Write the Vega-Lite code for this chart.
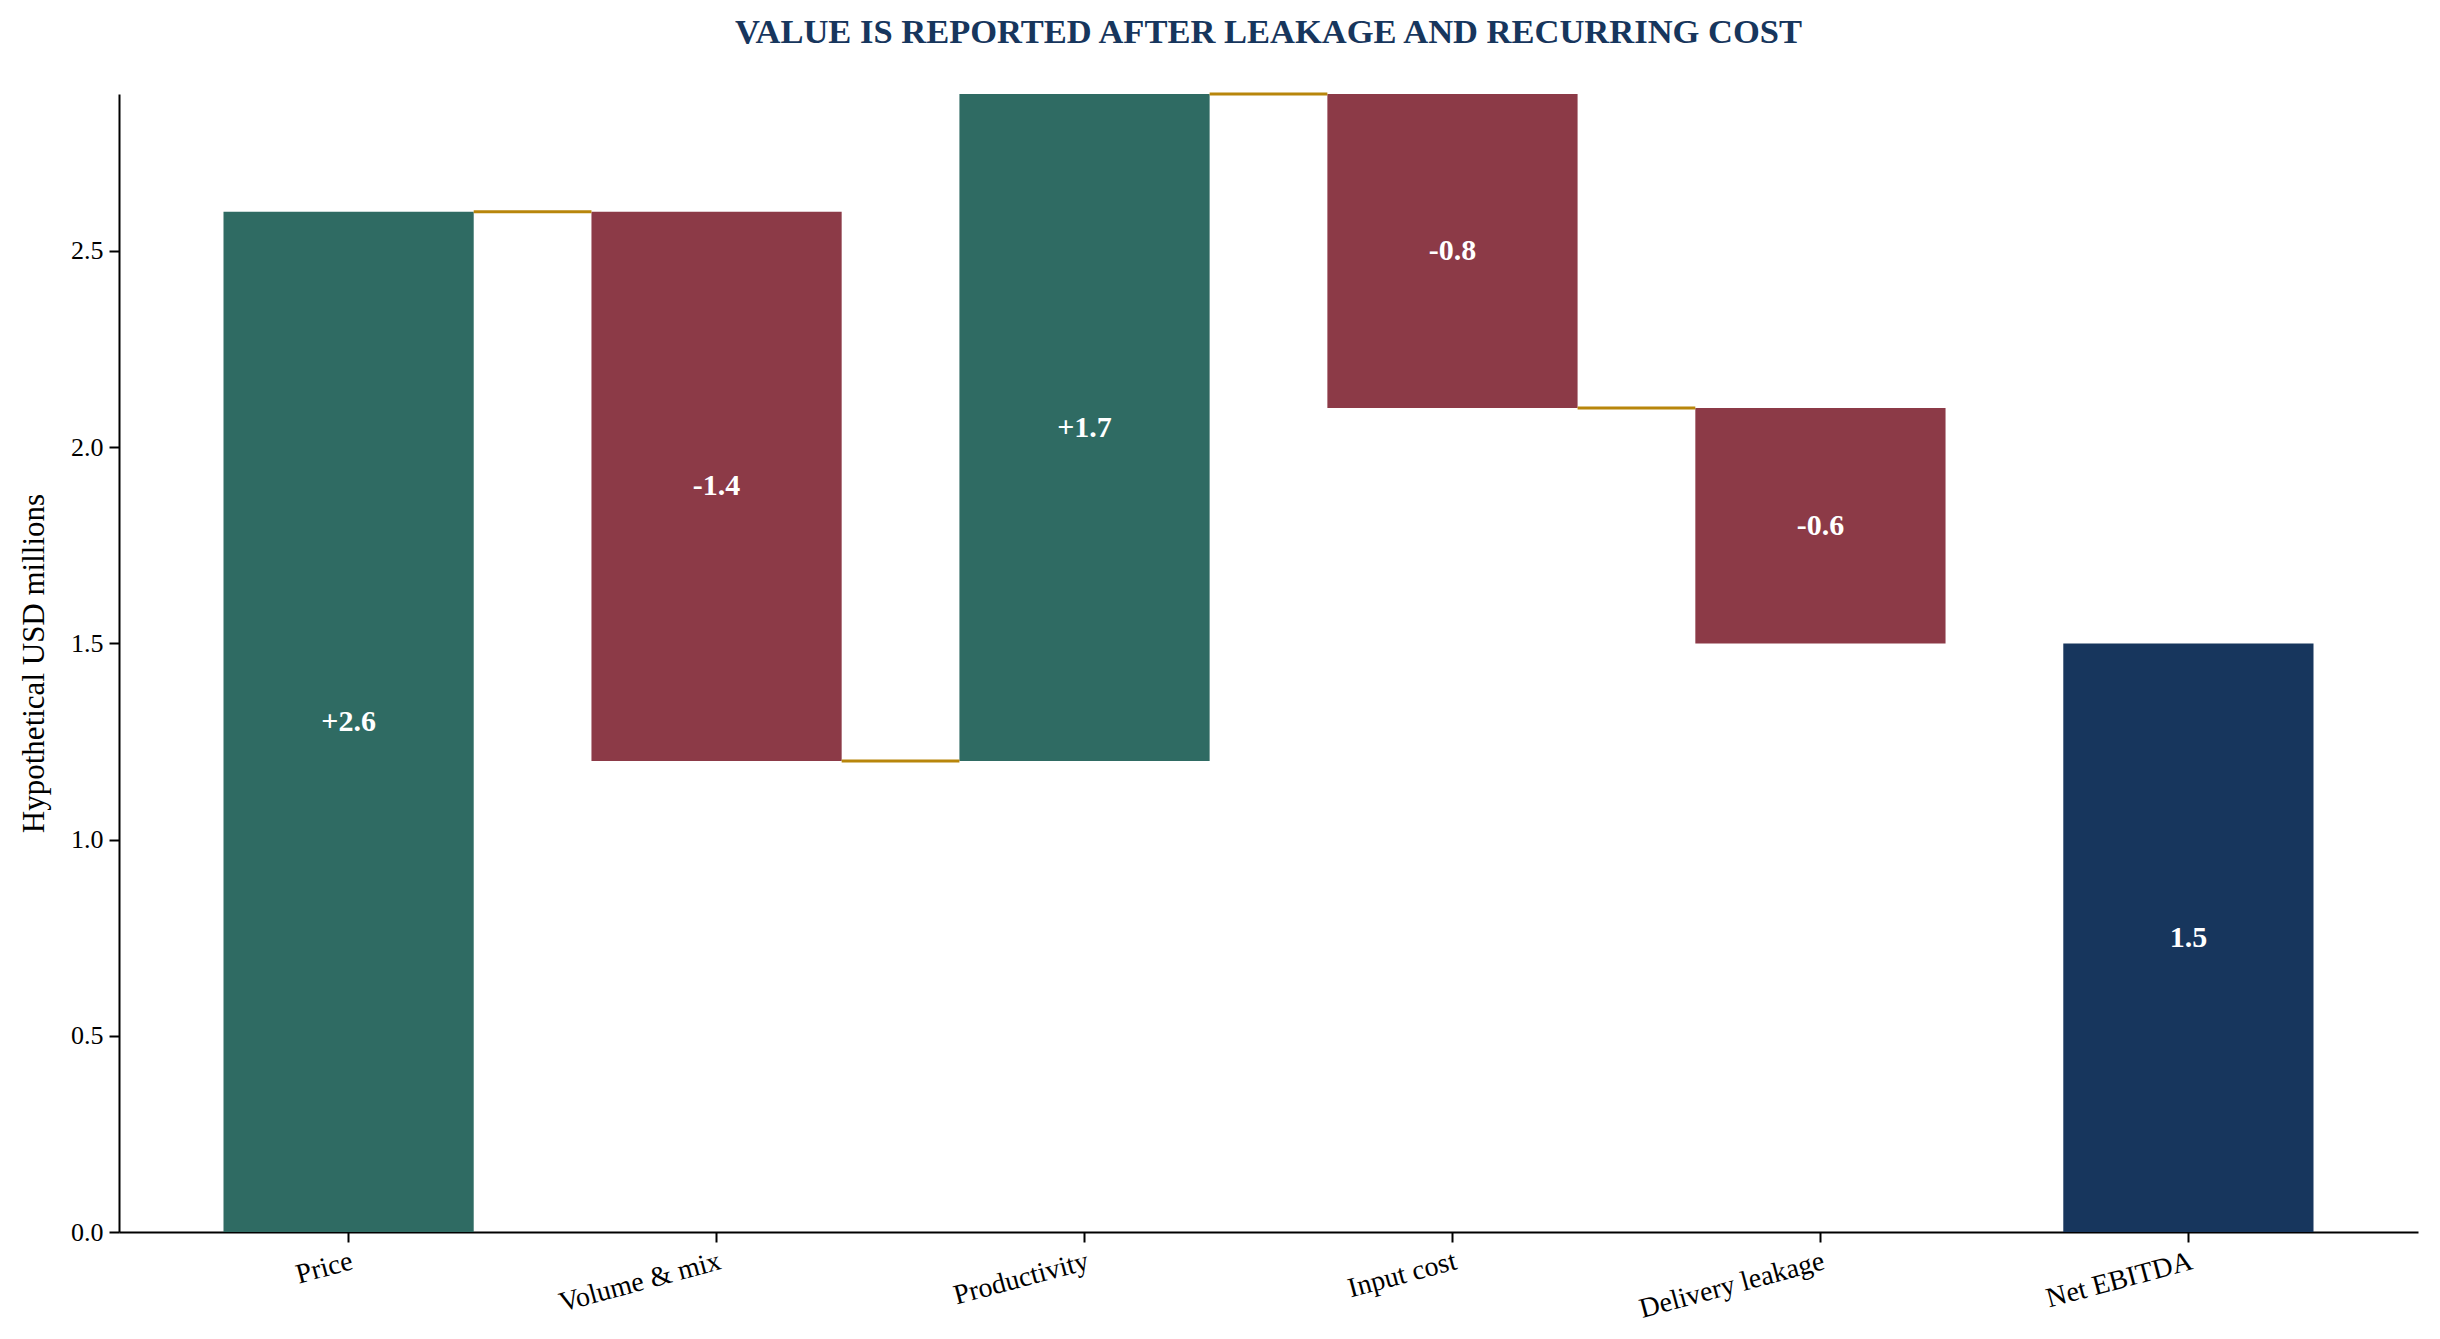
{
  "$schema": "https://vega.github.io/schema/vega-lite/v6.json",
  "description": "Waterfall: value is reported after leakage and recurring cost",
  "autosize": "none",
  "padding": {"left": 119, "top": 94, "right": 22, "bottom": 107},
  "width": 2299,
  "height": 1138,
  "background": "white",
  "title": {
    "text": "VALUE IS REPORTED AFTER LEAKAGE AND RECURRING COST",
    "font": "Liberation Serif",
    "fontSize": 34.5,
    "fontWeight": "bold",
    "color": "#17365D",
    "anchor": "middle",
    "frame": "group",
    "offset": 42
  },
  "datasets": {
    "steps": [
      {"step": "Price", "start": 0, "end": 2.6, "label": "+2.6", "kind": "up"},
      {"step": "Volume & mix", "start": 2.6, "end": 1.2, "label": "-1.4", "kind": "down"},
      {"step": "Productivity", "start": 1.2, "end": 2.9, "label": "+1.7", "kind": "up"},
      {"step": "Input cost", "start": 2.9, "end": 2.1, "label": "-0.8", "kind": "down"},
      {"step": "Delivery leakage", "start": 2.1, "end": 1.5, "label": "-0.6", "kind": "down"},
      {"step": "Net EBITDA", "start": 0, "end": 1.5, "label": "1.5", "kind": "total"}
    ],
    "links": [
      {"from": "Price", "to": "Volume & mix", "level": 2.6},
      {"from": "Volume & mix", "to": "Productivity", "level": 1.2},
      {"from": "Productivity", "to": "Input cost", "level": 2.9},
      {"from": "Input cost", "to": "Delivery leakage", "level": 2.1}
    ]
  },
  "layer": [
    {
      "data": {"name": "steps"},
      "mark": {"type": "bar"},
      "encoding": {
        "x": {
          "field": "step",
          "type": "nominal",
          "sort": null,
          "scale": {"paddingInner": 0.32, "paddingOuter": 0.284},
          "axis": {"title": null, "labelLimit": 0, "labelOverlap": false}
        },
        "y": {
          "field": "end",
          "type": "quantitative",
          "scale": {"domain": [0, 2.9], "nice": false, "zero": true},
          "axis": {
            "title": "Hypothetical USD millions",
            "values": [0, 0.5, 1, 1.5, 2, 2.5],
            "format": ".1f"
          }
        },
        "y2": {"field": "start"},
        "color": {
          "field": "kind",
          "type": "nominal",
          "scale": {"domain": ["up", "down", "total"], "range": ["#2F6B63", "#8C3A47", "#17365D"]},
          "legend": null
        }
      }
    },
    {
      "data": {"name": "links"},
      "mark": {"type": "rule", "color": "#B8860B", "strokeWidth": 3},
      "encoding": {
        "x": {"field": "from", "type": "nominal", "sort": null, "bandPosition": 1},
        "x2": {"field": "to", "bandPosition": 0},
        "y": {"field": "level", "type": "quantitative"}
      }
    },
    {
      "data": {"name": "steps"},
      "transform": [{"calculate": "(datum.start + datum.end) / 2", "as": "mid"}],
      "mark": {
        "type": "text",
        "font": "Liberation Serif",
        "fontSize": 30,
        "fontWeight": "bold",
        "color": "white",
        "align": "center",
        "baseline": "middle"
      },
      "encoding": {
        "x": {"field": "step", "type": "nominal", "sort": null},
        "y": {"field": "mid", "type": "quantitative"},
        "text": {"field": "label"}
      }
    }
  ],
  "config": {
    "view": {"stroke": null},
    "font": "Liberation Serif",
    "axisX": {
      "labelAngle": -15,
      "labelAlign": "right",
      "labelBaseline": "top",
      "labelFont": "Liberation Serif",
      "labelFontSize": 28,
      "labelColor": "black",
      "labelPadding": 5,
      "tickSize": 10,
      "tickWidth": 2,
      "tickColor": "black",
      "domainColor": "black",
      "domainWidth": 2,
      "grid": false
    },
    "axisY": {
      "titleFont": "Liberation Serif",
      "titleFontSize": 31,
      "titleFontWeight": "normal",
      "titleColor": "black",
      "titlePadding": 20,
      "labelFont": "Liberation Serif",
      "labelFontSize": 26,
      "labelColor": "black",
      "labelPadding": 6,
      "tickSize": 10,
      "tickWidth": 2,
      "tickColor": "black",
      "domainColor": "black",
      "domainWidth": 2,
      "grid": false
    }
  }
}
